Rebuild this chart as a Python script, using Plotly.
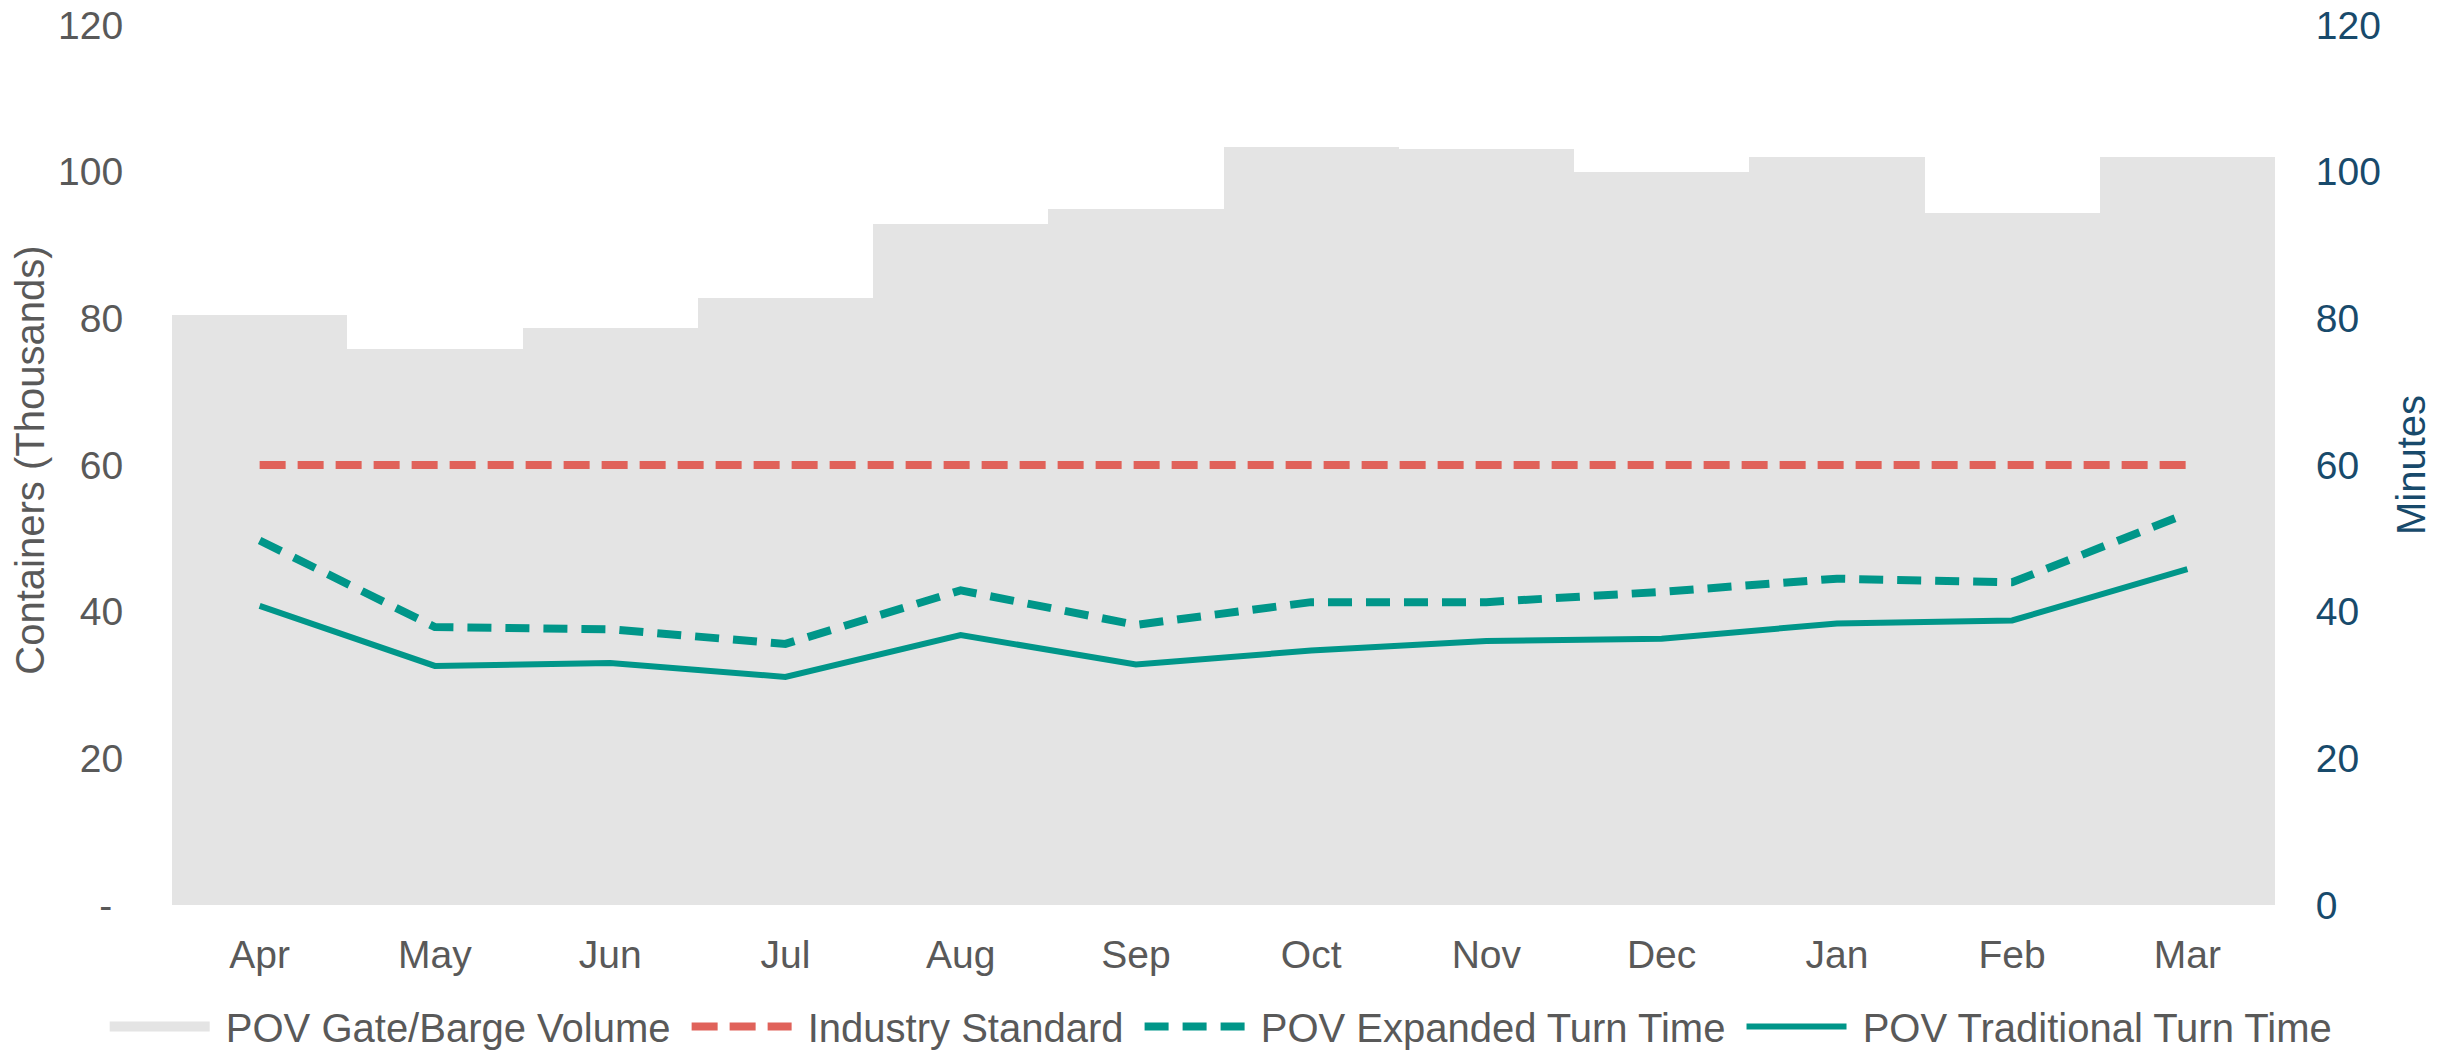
import plotly.graph_objects as go

months = ["Apr", "May", "Jun", "Jul", "Aug", "Sep", "Oct", "Nov", "Dec", "Jan", "Feb", "Mar"]
volume = [80.4, 75.8, 78.7, 82.8, 92.8, 94.9, 103.3, 103.1, 99.9, 102.0, 94.3, 102.0]
industry_standard = [60] * 12
expanded_turn = [49.7, 37.9, 37.6, 35.6, 42.9, 38.2, 41.3, 41.3, 42.7, 44.5, 44.0, 53.4]
traditional_turn = [40.8, 32.6, 33.0, 31.1, 36.8, 32.8, 34.7, 36.0, 36.3, 38.4, 38.8, 45.8]

left_ticks = [0, 20, 40, 60, 80, 100, 120]
left_ticktext = ["-\u00a0", "20", "40", "60", "80", "100", "120"]
right_ticks = [0, 20, 40, 60, 80, 100, 120]

FONT = "Liberation Sans, Arial, sans-serif"
GRAY = "#595959"
NAVY = "#184A6B"
BAR = "#E4E4E4"
RED = "#E0625A"
TEAL = "#009689"
TICK_FS = 39
FS = 40
SP = "\u00a0"

fig = go.Figure()
fig.add_trace(go.Bar(x=months, y=volume, marker=dict(color=BAR, line=dict(width=0)),
                     name="POV Gate/Barge Volume", showlegend=False, yaxis="y"))
# legend swatch for the volume bars
fig.add_trace(go.Scatter(x=[None], y=[None], mode="lines", name=SP + "POV Gate/Barge Volume" + SP,
                         line=dict(color=BAR, width=22), yaxis="y"))
fig.add_trace(go.Scatter(x=months, y=industry_standard, mode="lines", name=SP + "Industry Standard" + SP,
                         line=dict(color=RED, width=8, dash="26px,12px"), yaxis="y2"))
fig.add_trace(go.Scatter(x=months, y=expanded_turn, mode="lines", name=SP + "POV Expanded Turn Time" + SP,
                         line=dict(color=TEAL, width=8, dash="24px,14px"), yaxis="y2"))
fig.add_trace(go.Scatter(x=months, y=traditional_turn, mode="lines", name=SP + "POV Traditional Turn Time",
                         line=dict(color=TEAL, width=6), yaxis="y2"))

fig.update_layout(
    width=2451, height=1054, autosize=False,
    margin=dict(l=172, r=176, t=25, b=149, autoexpand=False),
    paper_bgcolor="white", plot_bgcolor="white",
    bargap=0,
    font=dict(family=FONT, size=FS, color=GRAY),
    xaxis=dict(type="category", range=[-0.5, 11.5], showgrid=False, showline=False, zeroline=False,
               ticks="outside", ticklen=15, tickcolor="rgba(0,0,0,0)",
               tickfont=dict(family=FONT, size=TICK_FS, color=GRAY)),
    yaxis=dict(range=[0, 120], tickvals=left_ticks, ticktext=left_ticktext, showgrid=False,
               zeroline=False, showline=False, ticks="outside", ticklen=40,
               tickcolor="rgba(0,0,0,0)", tickfont=dict(family=FONT, size=TICK_FS, color=GRAY)),
    yaxis2=dict(range=[0, 120], tickvals=right_ticks, overlaying="y", side="right", showgrid=False,
                zeroline=False, showline=False, ticks="outside", ticklen=32,
                tickcolor="rgba(0,0,0,0)", tickfont=dict(family=FONT, size=TICK_FS, color=NAVY)),
    legend=dict(orientation="h", x=-0.032, xanchor="left", y=-0.138, yanchor="middle",
                font=dict(family=FONT, size=FS, color=GRAY), itemwidth=100,
                bgcolor="rgba(0,0,0,0)"),
    annotations=[
        dict(text="Containers (Thousands)", textangle=-90, xref="paper", yref="paper",
             x=-0.0675, y=0.505, xanchor="center", yanchor="middle", showarrow=False,
             font=dict(family=FONT, size=FS, color=GRAY)),
        dict(text="Minutes", textangle=-90, xref="paper", yref="paper",
             x=1.0647, y=0.5, xanchor="center", yanchor="middle", showarrow=False,
             font=dict(family=FONT, size=FS, color=NAVY)),
    ],
)

fig.write_html("out.html", config={"displayModeBar": False},
               post_script="document.body.style.margin='0px';document.body.style.overflow='hidden';")
